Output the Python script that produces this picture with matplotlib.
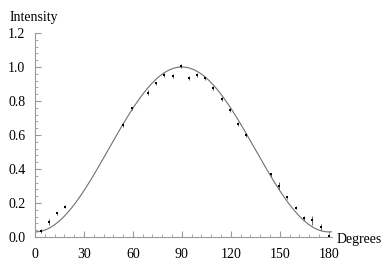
import numpy as np
import matplotlib
matplotlib.use('Agg')
import matplotlib.pyplot as plt
from matplotlib.ticker import MultipleLocator, AutoMinorLocator

# measured points (angle in degrees, intensity)
angles = [3.7, 8.6, 13.7, 18.6, 54.1, 59.2, 69.0, 74.1, 79.2, 84.3, 89.2,
          94.3, 99.4, 104.3, 109.2, 114.5, 119.4, 124.7, 129.6, 144.5,
          149.6, 154.7, 159.8, 164.7, 169.8, 175.0, 180.0]
intensity = [0.037, 0.088, 0.140, 0.178, 0.659, 0.757, 0.849, 0.904, 0.953,
             0.948, 1.008, 0.935, 0.953, 0.933, 0.878, 0.812, 0.747, 0.665,
             0.600, 0.369, 0.302, 0.233, 0.173, 0.110, 0.098, 0.057, 0.005]
errors = [0.012, 0.015, 0.010, 0.010, 0.012, 0.010, 0.014, 0.010, 0.010,
          0.012, 0.012, 0.012, 0.010, 0.010, 0.012, 0.010, 0.010, 0.012,
          0.012, 0.010, 0.020, 0.008, 0.008, 0.012, 0.025, 0.018, 0.005]

# fitted Malus-law curve: I = offset + amp * sin^2(theta)
fit_offset = 0.03
fit_amp = 0.97

plt.rcParams['font.family'] = 'Liberation Serif'

fig = plt.figure(figsize=(3.88, 2.74), dpi=100)
ax = fig.add_axes([35/388, 37/274, 297/388, 204/274])

theta = np.linspace(0, 182, 400)
ax.plot(theta, fit_offset + fit_amp*np.sin(np.radians(theta))**2,
        color='#707070', lw=0.8)
ax.errorbar(angles, intensity, yerr=errors, fmt='s', ms=2.0, mew=0,
            color='black', ecolor='#222222', elinewidth=0.5,
            capsize=1.5, capthick=0.5)

ax.set_xlim(0, 182)
ax.set_ylim(0, 1.2)
ax.xaxis.set_major_locator(MultipleLocator(30))
ax.xaxis.set_minor_locator(AutoMinorLocator(5))
ax.yaxis.set_major_locator(MultipleLocator(0.2))
ax.yaxis.set_minor_locator(AutoMinorLocator(5))
ax.yaxis.set_major_formatter(matplotlib.ticker.FormatStrFormatter('%.1f'))

for s in ['top', 'right']:
    ax.spines[s].set_visible(False)
for s in ['left', 'bottom']:
    ax.spines[s].set_color('#999999')
    ax.spines[s].set_linewidth(0.8)

ax.tick_params(which='both', direction='in', color='#999999', labelsize=10)
ax.tick_params(which='major', length=4, width=0.8)
ax.tick_params(which='minor', length=2.5, width=0.6)
ax.tick_params(axis='x', pad=8)
ax.tick_params(axis='y', pad=7)

fig.text(10/388, 1 - 18/274, 'Intensity', fontsize=10, va='center', ha='left')
fig.text(337/388, 1 - 240/274, 'Degrees', fontsize=10, va='center', ha='left')

fig.savefig('out.png', dpi=100)
